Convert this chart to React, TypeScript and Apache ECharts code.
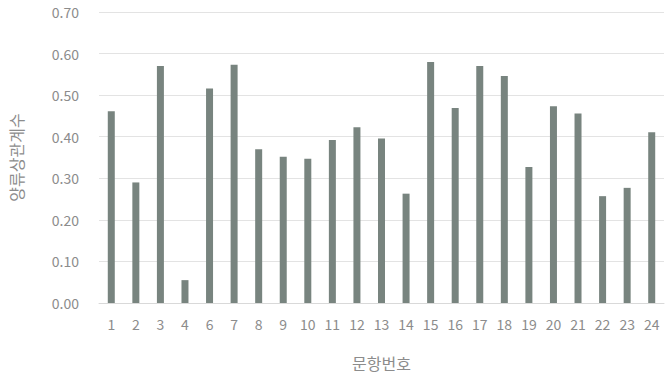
import React, { useEffect, useRef } from "react";
import * as echarts from "echarts";

const categories = ["1","2","3","4","6","7","8","9","10","11","12","13","14","15","16","17","18","19","20","21","22","23","24"];
const values = [0.461, 0.29, 0.57, 0.055, 0.516, 0.573, 0.37, 0.352, 0.347, 0.392, 0.423, 0.396, 0.263, 0.58, 0.469, 0.57, 0.546, 0.327, 0.473, 0.456, 0.257, 0.277, 0.411];
const yTicks = { min: 0, max: 0.7, interval: 0.1 };
const xTitle = "문항번호";
const yTitle = "양류상관계수";

export default function App() {
  const ref = useRef<HTMLDivElement>(null);
  useEffect(() => {
    if (!ref.current) return;
    const chart = echarts.init(ref.current, undefined, { renderer: "svg" });
    const font = "'Noto Sans CJK KR', 'Noto Sans', sans-serif";
    chart.setOption({
      animation: false,
      grid: { left: 90, right: 4, top: 12, bottom: 60, containLabel: false },
      xAxis: {
        type: "category",
        data: categories,
        name: xTitle,
        nameLocation: "middle",
        nameGap: 52,
        nameTextStyle: { color: "#8c8c8c", fontSize: 16, fontFamily: font },
        axisLine: { lineStyle: { color: "#d9d9d9" } },
        axisTick: { show: false },
        axisLabel: { color: "#8c8c8c", fontSize: 14, fontFamily: font, margin: 14, interval: 0 },
      },
      yAxis: {
        type: "value",
        min: yTicks.min,
        max: yTicks.max,
        interval: yTicks.interval,
        name: yTitle,
        nameLocation: "middle",
        nameGap: 75,
        nameTextStyle: { color: "#8c8c8c", fontSize: 16, fontFamily: font },
        axisLine: { show: false },
        axisTick: { show: false },
        splitLine: { lineStyle: { color: "#e3e3e3" } },
        axisLabel: {
          color: "#8c8c8c",
          fontSize: 14,
          fontFamily: font,
          margin: 20,
          formatter: (v: number) => v.toFixed(2),
        },
      },
      series: [
        {
          type: "bar",
          data: values,
          barWidth: 7,
          itemStyle: { color: "#78847f" },
        },
      ],
    });
    return () => chart.dispose();
  }, []);
  return <div ref={ref} style={{ width: 668, height: 376, position: "absolute", left: 0, top: 0 }} />;
}
